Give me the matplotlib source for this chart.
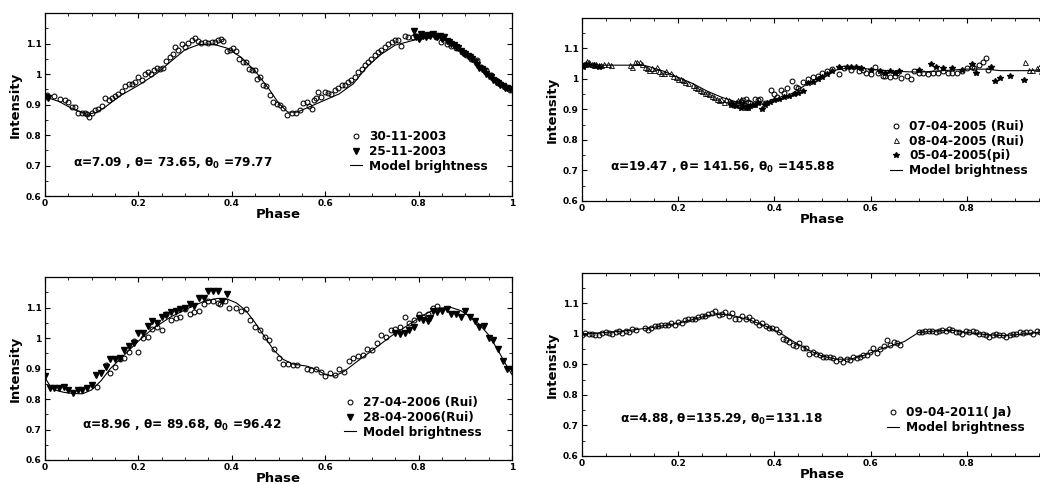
import numpy as np
import matplotlib
matplotlib.use('Agg')
import matplotlib.pyplot as plt
from matplotlib.ticker import MultipleLocator, FormatStrFormatter

plt.rcParams['font.family'] = ['DejaVu Sans']
plt.rcParams['font.weight'] = 'bold'
plt.rcParams['mathtext.default'] = 'bf'

# ---- panel 1 : 2003 ----
obs_301103 = [(0.004, 0.931), (0.02, 0.929), (0.032, 0.918), (0.043, 0.914), (0.05, 0.907), (0.057, 0.893),
              (0.064, 0.893), (0.071, 0.873), (0.079, 0.871), (0.086, 0.873), (0.089, 0.869), (0.095, 0.86),
              (0.1, 0.873), (0.107, 0.882), (0.114, 0.887), (0.121, 0.895), (0.129, 0.92), (0.136, 0.916),
              (0.143, 0.92), (0.15, 0.929), (0.157, 0.933), (0.164, 0.945), (0.171, 0.96), (0.179, 0.967),
              (0.186, 0.969), (0.193, 0.974), (0.2, 0.989), (0.207, 0.98), (0.214, 1.0), (0.221, 1.007),
              (0.228, 1.0), (0.233, 1.013), (0.239, 1.021), (0.246, 1.018), (0.253, 1.02), (0.26, 1.043),
              (0.267, 1.056), (0.275, 1.067), (0.278, 1.089), (0.285, 1.08), (0.293, 1.1), (0.3, 1.089),
              (0.307, 1.102), (0.314, 1.113), (0.321, 1.118), (0.328, 1.109), (0.335, 1.102), (0.342, 1.105),
              (0.35, 1.102), (0.357, 1.105), (0.364, 1.105), (0.371, 1.113), (0.376, 1.116), (0.382, 1.109),
              (0.389, 1.075), (0.396, 1.08), (0.403, 1.087), (0.41, 1.076), (0.416, 1.051), (0.423, 1.04),
              (0.43, 1.04), (0.437, 1.018), (0.444, 1.013), (0.449, 1.013), (0.454, 0.983), (0.461, 0.989),
              (0.467, 0.964), (0.474, 0.96), (0.481, 0.931), (0.489, 0.909), (0.496, 0.901), (0.503, 0.898),
              (0.51, 0.89), (0.519, 0.867), (0.528, 0.871), (0.537, 0.871), (0.546, 0.882), (0.553, 0.904),
              (0.56, 0.909), (0.566, 0.895), (0.571, 0.887), (0.576, 0.915), (0.581, 0.92), (0.585, 0.942),
              (0.592, 0.925), (0.6, 0.942), (0.606, 0.938), (0.613, 0.933), (0.621, 0.947), (0.628, 0.953),
              (0.635, 0.964), (0.642, 0.964), (0.649, 0.974), (0.656, 0.98), (0.663, 0.991), (0.67, 1.007),
              (0.678, 1.018), (0.685, 1.029), (0.692, 1.04), (0.699, 1.051), (0.706, 1.062), (0.713, 1.071),
              (0.72, 1.078), (0.728, 1.089), (0.735, 1.1), (0.742, 1.105), (0.749, 1.111), (0.756, 1.111),
              (0.763, 1.092), (0.77, 1.124), (0.777, 1.12), (0.787, 1.12), (0.795, 1.124), (0.804, 1.122),
              (0.813, 1.127), (0.824, 1.13), (0.838, 1.122), (0.849, 1.105), (0.86, 1.1), (0.87, 1.092),
              (0.881, 1.084), (0.892, 1.073), (0.902, 1.062), (0.913, 1.051), (0.924, 1.045), (0.934, 1.024),
              (0.945, 1.013), (0.956, 0.996), (0.966, 0.98), (0.977, 0.967), (0.988, 0.958), (0.996, 0.949)]
obs_251103 = [(0.0, 0.925), (0.006, 0.92), (0.79, 1.14), (0.795, 1.12), (0.8, 1.115), (0.805, 1.13), (0.81, 1.125),
              (0.815, 1.12), (0.82, 1.128), (0.825, 1.125), (0.83, 1.13), (0.835, 1.125), (0.84, 1.12),
              (0.845, 1.125), (0.85, 1.115), (0.855, 1.12), (0.86, 1.11), (0.865, 1.105), (0.87, 1.1),
              (0.875, 1.095), (0.88, 1.09), (0.885, 1.085), (0.89, 1.075), (0.895, 1.07), (0.9, 1.065),
              (0.905, 1.06), (0.91, 1.055), (0.915, 1.05), (0.92, 1.04), (0.925, 1.03), (0.93, 1.02),
              (0.935, 1.015), (0.94, 1.01), (0.945, 1.0), (0.95, 0.995), (0.955, 0.99), (0.96, 0.98),
              (0.965, 0.975), (0.97, 0.97), (0.975, 0.965), (0.98, 0.96), (0.985, 0.955), (0.99, 0.955),
              (0.995, 0.95)]
model_2003 = [(0, 0.925), (0.03, 0.91), (0.06, 0.885), (0.09, 0.868), (0.11, 0.874), (0.13, 0.893), (0.16, 0.928),
              (0.2, 0.963), (0.24, 1.003), (0.27, 1.042), (0.3, 1.08), (0.33, 1.097), (0.36, 1.098), (0.39, 1.085),
              (0.42, 1.055), (0.45, 1.01), (0.48, 0.95), (0.5, 0.905), (0.52, 0.875), (0.54, 0.875), (0.57, 0.895),
              (0.6, 0.915), (0.63, 0.935), (0.66, 0.968), (0.69, 1.025), (0.72, 1.065), (0.75, 1.095),
              (0.78, 1.107), (0.81, 1.12), (0.83, 1.125), (0.85, 1.118), (0.88, 1.09), (0.91, 1.055),
              (0.94, 1.015), (0.97, 0.975), (1.0, 0.95)]

# ---- panel 2 : 2005 ----
obs_070405 = [(0.31, 0.92), (0.315, 0.915), (0.325, 0.92), (0.33, 0.925), (0.335, 0.93), (0.34, 0.935),
              (0.345, 0.925), (0.35, 0.92), (0.36, 0.935), (0.365, 0.93), (0.37, 0.935), (0.38, 0.92),
              (0.394, 0.963), (0.4, 0.95), (0.405, 0.94), (0.414, 0.965), (0.42, 0.955), (0.427, 0.97),
              (0.436, 0.993), (0.444, 0.975), (0.45, 0.97), (0.46, 0.99), (0.47, 1.0), (0.48, 1.005),
              (0.49, 1.01), (0.5, 1.02), (0.51, 1.025), (0.52, 1.033), (0.535, 1.017), (0.545, 1.035),
              (0.56, 1.03), (0.575, 1.025), (0.585, 1.03), (0.59, 1.02), (0.6, 1.015), (0.61, 1.04),
              (0.615, 1.02), (0.625, 1.01), (0.63, 1.01), (0.64, 1.005), (0.65, 1.01), (0.655, 1.02),
              (0.663, 1.003), (0.675, 1.01), (0.684, 1.0), (0.69, 1.025), (0.7, 1.02), (0.71, 1.02),
              (0.72, 1.015), (0.73, 1.02), (0.74, 1.02), (0.75, 1.025), (0.76, 1.02), (0.77, 1.02),
              (0.78, 1.02), (0.79, 1.025), (0.8, 1.035), (0.81, 1.04), (0.815, 1.035), (0.825, 1.045),
              (0.833, 1.056), (0.84, 1.07), (0.845, 1.03)]
obs_080405 = [(0.0, 1.045), (0.005, 1.05), (0.01, 1.06), (0.015, 1.055), (0.02, 1.05), (0.025, 1.045),
              (0.03, 1.05), (0.035, 1.045), (0.04, 1.045), (0.045, 1.05), (0.055, 1.05), (0.06, 1.045),
              (0.1, 1.045), (0.105, 1.04), (0.11, 1.055), (0.115, 1.055), (0.12, 1.055), (0.125, 1.05),
              (0.13, 1.04), (0.135, 1.035), (0.14, 1.03), (0.145, 1.035), (0.15, 1.03), (0.155, 1.04),
              (0.16, 1.025), (0.165, 1.02), (0.17, 1.02), (0.175, 1.025), (0.185, 1.02), (0.19, 1.01),
              (0.195, 1.005), (0.2, 1.0), (0.205, 1.0), (0.21, 0.995), (0.215, 0.99), (0.22, 0.985),
              (0.23, 0.98), (0.235, 0.975), (0.24, 0.97), (0.245, 0.965), (0.25, 0.96), (0.255, 0.955),
              (0.26, 0.955), (0.265, 0.95), (0.27, 0.945), (0.275, 0.94), (0.28, 0.935), (0.285, 0.93),
              (0.29, 0.935), (0.295, 0.925), (0.3, 0.935), (0.305, 0.93), (0.31, 0.925), (0.315, 0.92),
              (0.32, 0.925), (0.325, 0.93), (0.33, 0.935), (0.335, 0.925), (0.92, 1.055), (0.93, 1.03),
              (0.935, 1.03), (0.945, 1.035), (0.95, 1.04), (0.955, 1.025), (0.965, 1.045), (0.975, 1.05)]
obs_050405 = [(0.002, 1.04), (0.008, 1.05), (0.015, 1.045), (0.025, 1.045), (0.035, 1.04),
              (0.31, 0.915), (0.32, 0.91), (0.33, 0.905), (0.335, 0.91), (0.34, 0.905), (0.345, 0.905),
              (0.35, 0.91), (0.355, 0.915), (0.36, 0.915), (0.365, 0.92), (0.375, 0.9), (0.38, 0.915),
              (0.385, 0.92), (0.39, 0.925), (0.4, 0.93), (0.41, 0.935), (0.42, 0.94), (0.43, 0.945),
              (0.44, 0.95), (0.45, 0.955), (0.46, 0.96), (0.47, 0.985), (0.48, 0.99), (0.49, 1.0),
              (0.5, 1.005), (0.51, 1.015), (0.52, 1.025), (0.535, 1.04), (0.55, 1.04), (0.56, 1.04),
              (0.57, 1.04), (0.58, 1.035), (0.6, 1.03), (0.62, 1.025), (0.63, 1.02), (0.64, 1.025),
              (0.65, 1.02), (0.66, 1.025), (0.7, 1.03), (0.725, 1.05), (0.735, 1.04), (0.75, 1.035),
              (0.77, 1.035), (0.79, 1.03), (0.81, 1.05), (0.82, 1.02), (0.85, 1.04), (0.858, 0.993),
              (0.869, 1.003), (0.89, 1.009), (0.918, 0.998)]
model_2005 = [(0, 1.045), (0.05, 1.045), (0.1, 1.045), (0.12, 1.047), (0.14, 1.04), (0.17, 1.025), (0.2, 1.005),
              (0.23, 0.985), (0.26, 0.96), (0.29, 0.94), (0.32, 0.925), (0.35, 0.915), (0.38, 0.918),
              (0.41, 0.93), (0.44, 0.955), (0.47, 0.985), (0.5, 1.01), (0.53, 1.03), (0.56, 1.037),
              (0.6, 1.032), (0.65, 1.025), (0.7, 1.022), (0.75, 1.027), (0.8, 1.032), (0.84, 1.032),
              (0.87, 1.027), (0.93, 1.027), (0.97, 1.032), (1.0, 1.04)]

# ---- panel 3 : 2006 ----
obs_270406 = [(0.111, 0.838), (0.13, 0.91), (0.14, 0.885), (0.15, 0.905), (0.16, 0.93), (0.17, 0.935),
              (0.18, 0.955), (0.19, 0.99), (0.2, 0.955), (0.21, 1.0), (0.22, 1.005), (0.23, 1.03),
              (0.24, 1.035), (0.25, 1.025), (0.26, 1.08), (0.27, 1.06), (0.28, 1.065), (0.29, 1.07),
              (0.3, 1.095), (0.31, 1.08), (0.32, 1.085), (0.33, 1.09), (0.34, 1.11), (0.35, 1.12),
              (0.36, 1.12), (0.37, 1.115), (0.375, 1.11), (0.385, 1.12), (0.395, 1.1), (0.41, 1.1),
              (0.42, 1.09), (0.43, 1.095), (0.44, 1.06), (0.45, 1.035), (0.46, 1.025), (0.47, 1.005),
              (0.48, 0.995), (0.49, 0.963), (0.5, 0.935), (0.51, 0.915), (0.52, 0.915), (0.53, 0.91),
              (0.54, 0.91), (0.56, 0.9), (0.57, 0.895), (0.58, 0.9), (0.59, 0.89), (0.6, 0.875),
              (0.61, 0.885), (0.62, 0.88), (0.63, 0.9), (0.64, 0.89), (0.65, 0.925), (0.66, 0.935),
              (0.67, 0.94), (0.68, 0.945), (0.69, 0.965), (0.7, 0.96), (0.71, 0.985), (0.72, 1.01),
              (0.73, 1.005), (0.74, 1.027), (0.75, 1.03), (0.76, 1.035), (0.771, 1.07), (0.78, 1.05),
              (0.79, 1.06), (0.8, 1.08), (0.81, 1.07), (0.82, 1.08), (0.83, 1.1), (0.84, 1.105)]
obs_280406 = [(0.0, 0.875), (0.01, 0.835), (0.02, 0.835), (0.03, 0.835), (0.04, 0.84), (0.05, 0.83),
              (0.06, 0.82), (0.07, 0.83), (0.08, 0.83), (0.09, 0.835), (0.1, 0.845), (0.11, 0.88),
              (0.12, 0.885), (0.13, 0.905), (0.14, 0.93), (0.15, 0.93), (0.16, 0.935), (0.17, 0.96),
              (0.18, 0.975), (0.19, 0.985), (0.2, 1.015), (0.21, 1.015), (0.22, 1.04), (0.23, 1.055),
              (0.24, 1.05), (0.25, 1.07), (0.26, 1.075), (0.27, 1.085), (0.28, 1.09), (0.29, 1.095),
              (0.3, 1.1), (0.31, 1.11), (0.32, 1.105), (0.33, 1.13), (0.34, 1.13), (0.35, 1.155),
              (0.36, 1.155), (0.37, 1.155), (0.38, 1.12), (0.39, 1.145),
              (0.75, 1.017), (0.76, 1.012), (0.77, 1.017), (0.78, 1.025), (0.79, 1.035), (0.8, 1.065),
              (0.81, 1.06), (0.82, 1.055), (0.825, 1.065), (0.83, 1.09), (0.84, 1.085), (0.85, 1.09),
              (0.86, 1.095), (0.87, 1.08), (0.88, 1.08), (0.89, 1.07), (0.9, 1.09), (0.91, 1.07),
              (0.92, 1.055), (0.93, 1.035), (0.94, 1.04), (0.95, 1.0), (0.96, 0.995), (0.97, 0.965),
              (0.98, 0.925), (0.99, 0.9), (1.0, 0.9)]
model_2006 = [(0, 0.87), (0.01, 0.845), (0.02, 0.83), (0.04, 0.822), (0.06, 0.818), (0.08, 0.817), (0.1, 0.83),
              (0.12, 0.86), (0.14, 0.9), (0.17, 0.945), (0.2, 0.99), (0.23, 1.03), (0.27, 1.07), (0.31, 1.1),
              (0.34, 1.12), (0.37, 1.13), (0.39, 1.128), (0.41, 1.115), (0.43, 1.09), (0.45, 1.05),
              (0.47, 1.005), (0.49, 0.96), (0.51, 0.93), (0.53, 0.915), (0.56, 0.908), (0.58, 0.898),
              (0.6, 0.88), (0.62, 0.875), (0.64, 0.89), (0.67, 0.925), (0.71, 0.97), (0.74, 1.005),
              (0.78, 1.045), (0.81, 1.075), (0.84, 1.098), (0.87, 1.1), (0.89, 1.09), (0.91, 1.07),
              (0.93, 1.045), (0.95, 1.01), (0.97, 0.96), (0.99, 0.905), (1.0, 0.88)]

# ---- panel 4 : 2011 ----
obs_090411 = [(0.0, 0.997), (0.007, 1.003), (0.014, 1.0), (0.021, 1.0), (0.028, 0.998), (0.035, 0.996),
              (0.042, 1.002), (0.049, 1.005), (0.056, 1.003), (0.063, 1.0), (0.07, 1.008), (0.077, 1.01),
              (0.084, 1.003), (0.091, 1.01), (0.098, 1.005), (0.105, 1.015), (0.112, 1.012), (0.13, 1.02),
              (0.137, 1.012), (0.144, 1.02), (0.151, 1.025), (0.158, 1.025), (0.165, 1.03), (0.172, 1.03),
              (0.179, 1.03), (0.186, 1.035), (0.193, 1.028), (0.2, 1.038), (0.207, 1.035), (0.214, 1.045),
              (0.221, 1.05), (0.228, 1.048), (0.235, 1.05), (0.242, 1.055), (0.249, 1.06), (0.256, 1.06),
              (0.263, 1.065), (0.27, 1.068), (0.277, 1.075), (0.284, 1.062), (0.291, 1.065), (0.298, 1.072),
              (0.305, 1.06), (0.312, 1.07), (0.319, 1.05), (0.326, 1.05), (0.333, 1.058), (0.34, 1.05),
              (0.347, 1.055), (0.354, 1.045), (0.361, 1.04), (0.368, 1.03), (0.375, 1.035), (0.382, 1.025),
              (0.389, 1.02), (0.396, 1.02), (0.403, 1.015), (0.41, 1.005), (0.417, 0.985), (0.424, 0.98),
              (0.431, 0.975), (0.438, 0.965), (0.445, 0.96), (0.452, 0.97), (0.459, 0.955), (0.466, 0.955),
              (0.473, 0.935), (0.48, 0.94), (0.487, 0.935), (0.494, 0.93), (0.501, 0.925), (0.508, 0.925),
              (0.515, 0.925), (0.522, 0.92), (0.529, 0.912), (0.536, 0.918), (0.543, 0.908), (0.55, 0.918),
              (0.557, 0.915), (0.564, 0.925), (0.571, 0.92), (0.578, 0.925), (0.585, 0.93), (0.592, 0.93),
              (0.599, 0.94), (0.606, 0.955), (0.613, 0.937), (0.62, 0.95), (0.627, 0.96), (0.634, 0.98),
              (0.641, 0.965), (0.648, 0.975), (0.655, 0.97), (0.662, 0.965),
              (0.7, 1.005), (0.707, 1.005), (0.714, 1.01), (0.721, 1.01), (0.728, 1.01), (0.735, 1.008),
              (0.742, 1.01), (0.749, 1.012), (0.756, 1.01), (0.763, 1.015), (0.77, 1.012), (0.777, 1.008),
              (0.784, 1.005), (0.791, 1.0), (0.798, 1.01), (0.805, 1.005), (0.812, 1.01), (0.819, 1.005),
              (0.826, 1.0), (0.833, 1.0), (0.84, 0.995), (0.847, 0.99), (0.854, 0.995), (0.861, 1.0),
              (0.868, 0.995), (0.875, 0.995), (0.882, 0.99), (0.889, 0.995), (0.896, 1.0), (0.903, 1.0),
              (0.91, 1.005), (0.917, 1.002), (0.924, 1.008), (0.931, 1.008), (0.938, 1.0), (0.945, 1.01),
              (0.952, 1.008), (0.959, 1.005), (0.966, 1.01), (0.973, 1.008)]
model_2011 = [(0, 1.0), (0.05, 1.005), (0.1, 1.012), (0.15, 1.022), (0.2, 1.035), (0.23, 1.047), (0.26, 1.06),
              (0.29, 1.065), (0.32, 1.058), (0.35, 1.045), (0.38, 1.027), (0.41, 1.005), (0.44, 0.975),
              (0.47, 0.948), (0.5, 0.927), (0.53, 0.917), (0.56, 0.918), (0.59, 0.932), (0.62, 0.95),
              (0.67, 0.975), (0.7, 1.005), (0.74, 1.01), (0.77, 1.012), (0.8, 1.005), (0.84, 0.998),
              (0.87, 0.995), (0.9, 0.997), (0.95, 1.005), (1.0, 1.01)]

params_text = [r'α=7.09 , θ= 73.65, θ$_0$ =79.77',
               r'α=19.47 , θ= 141.56, θ$_0$ =145.88',
               r'α=8.96 , θ= 89.68, θ$_0$ =96.42',
               r'α=4.88, θ=135.29, θ$_0$=131.18']

open_circle = dict(marker='o', ms=3.5, mfc='none', mec='black', mew=0.75, ls='none')
filled_tri = dict(marker='v', ms=4, color='black', ls='none')
open_tri = dict(marker='^', ms=3.6, mfc='none', mec='black', mew=0.6, ls='none')
star = dict(marker='*', ms=4.4, color='black', ls='none')


def xy(pairs):
    a = np.array(pairs)
    return a[:, 0], a[:, 1]


def setup(ax, cut_right=False):
    ax.set_xlim(0, 1)
    ax.set_ylim(0.6, 1.2)
    ax.set_xticks([0, 0.2, 0.4, 0.6, 0.8, 1])
    ax.set_yticks([0.6, 0.7, 0.8, 0.9, 1.0, 1.1])
    ax.xaxis.set_minor_locator(MultipleLocator(0.05))
    ax.yaxis.set_minor_locator(MultipleLocator(0.05))
    ax.xaxis.set_major_formatter(FormatStrFormatter('%g'))
    ax.yaxis.set_major_formatter(FormatStrFormatter('%g'))
    if cut_right:
        # the last label falls outside the picture
        ax.set_xticklabels(['0', '0.2', '0.4', '0.6', '0.8', ''])
    ax.tick_params(which='both', direction='in', top=True, right=True, labelsize=6.5)
    ax.tick_params(which='major', length=3.5, width=0.8, pad=2.5)
    ax.tick_params(which='minor', length=2, width=0.6)
    for s in ax.spines.values():
        s.set_linewidth(0.9)
    ax.set_xlabel('Phase', fontsize=9.5, fontweight='bold', labelpad=0)
    ax.set_ylabel('Intensity', fontsize=9.5, fontweight='bold', labelpad=3)


def add_legend(ax, x, y):
    ax.legend(loc='upper left', bbox_to_anchor=(x, y), frameon=False, fontsize=8.7,
              handlelength=1.0, handletextpad=0.6, labelspacing=0.15, borderpad=0, borderaxespad=0)


fig = plt.figure(figsize=(10.4, 4.84), dpi=100)
ax1 = fig.add_axes([0.0433, 0.595, 0.449, 0.378])
ax2 = fig.add_axes([0.5596, 0.585, 0.4625, 0.378])
ax3 = fig.add_axes([0.0433, 0.0496, 0.449, 0.378])
ax4 = fig.add_axes([0.5596, 0.058, 0.4625, 0.378])

# panel 1
ax1.plot(*xy(obs_301103), label='30-11-2003', **open_circle)
ax1.plot(*xy(obs_251103), label='25-11-2003', **filled_tri)
ax1.plot(*xy(model_2003), color='black', lw=0.8, label='Model brightness')
setup(ax1)
add_legend(ax1, 0.653, 0.361)
ax1.text(0.06, 0.708, params_text[0], fontsize=8.7, va='center')

# panel 2
ax2.plot(*xy(obs_070405), label='07-04-2005 (Rui)', **open_circle)
ax2.plot(*xy(obs_080405), label='08-04-2005 (Rui)', **open_tri)
ax2.plot(*xy(obs_050405), label='05-04-2005(pi)', **star)
ax2.plot(*xy(model_2005), color='black', lw=0.8, label='Model brightness')
setup(ax2, cut_right=True)
add_legend(ax2, 0.64, 0.443)
ax2.text(0.058, 0.711, params_text[1], fontsize=8.7, va='center')

# panel 3
ax3.plot(*xy(obs_270406), label='27-04-2006 (Rui)', **open_circle)
ax3.plot(*xy(obs_280406), label='28-04-2006(Rui)', **filled_tri)
ax3.plot(*xy(model_2006), color='black', lw=0.8, label='Model brightness')
setup(ax3)
add_legend(ax3, 0.64, 0.35)
ax3.text(0.079, 0.714, params_text[2], fontsize=8.7, va='center')

# panel 4
ax4.plot(*xy(obs_090411), label='09-04-2011( Ja)', **open_circle)
ax4.plot(*xy(model_2011), color='black', lw=0.8, label='Model brightness')
setup(ax4, cut_right=True)
add_legend(ax4, 0.634, 0.273)
ax4.text(0.079, 0.718, params_text[3], fontsize=8.7, va='center')

fig.savefig('out.png', dpi=100)
